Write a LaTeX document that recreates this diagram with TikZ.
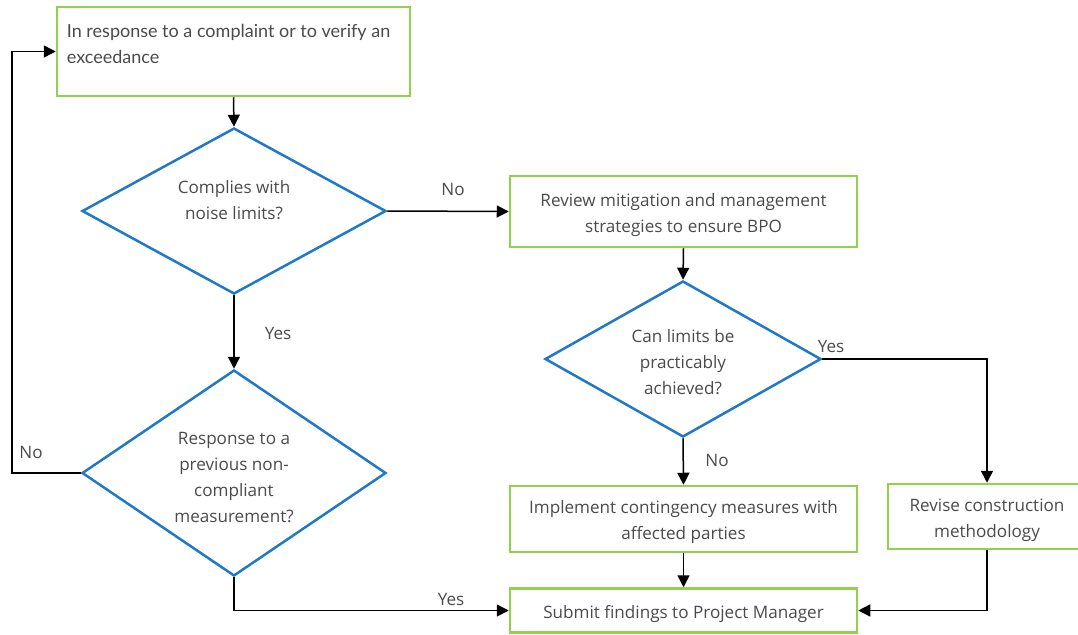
\documentclass[tikz,border=0pt]{standalone}
\usepackage{fontspec}
\setmainfont{Open Sans}
\newfontfamily\latofont{Lato}
\usetikzlibrary{shapes.geometric,arrows.meta}
\definecolor{boxgreen}{HTML}{92D050}
\definecolor{diablue}{HTML}{1F78C8}
\definecolor{txtgray}{HTML}{4A4A4A}
\begin{document}
\begin{tikzpicture}[x=1pt,y=-1pt,
  every node/.style={text=txtgray,font=\fontsize{17.1}{26}\selectfont},
  procbox/.style={draw=boxgreen,line width=2.5pt,rectangle,inner sep=0pt,align=center},
  decision/.style={draw=diablue,line width=2.5pt,diamond,inner sep=0pt,align=center},
  dtext/.style={align=center,inner sep=0pt},
  btext/.style={align=center,inner sep=0pt,yshift=-3.5pt},
  arr/.style={draw=black,line width=1.5pt,-{Triangle[length=12pt,width=12pt]}},
  lbl/.style={inner sep=0pt}]
\useasboundingbox (0,0) rectangle (1078,634);
\coordinate (lp) at (12,0);
\node[procbox,minimum width=353pt,minimum height=89pt,
  label={[anchor=north west,align=left,inner sep=0pt,xshift=11pt,yshift=-18pt,font=\latofont\fontsize{18}{26}\selectfont]north west:In response to a complaint or to verify an\\exceedance}] (box1) at (233.5,51.5) {};
\node[decision,minimum width=304pt,minimum height=166pt,
  label={[dtext,yshift=11pt]center:Complies with\\noise limits?}] (d1) at (234,211) {};
\node[procbox,minimum width=347pt,minimum height=71pt,
  label={[btext]center:Review mitigation and management\\strategies to ensure BPO}] (box2) at (683.5,211.5) {};
\node[decision,minimum width=276pt,minimum height=156pt,
  label={[dtext,yshift=-3pt]center:Can limits be\\practicably\\achieved?}] (d2) at (683,359) {};
\node[decision,minimum width=304pt,minimum height=206pt,
  label={[dtext,yshift=-5pt]center:Response to a\\previous non-\\compliant\\measurement?}] (d3) at (234,473) {};
\node[procbox,minimum width=347pt,minimum height=66pt,
  label={[btext]center:Implement contingency measures with\\affected parties}] (box3) at (683.5,519) {};
\node[procbox,minimum width=198pt,minimum height=65pt,
  label={[btext]center:Revise construction\\methodology}] (box4) at (987,516.5) {};
\node[procbox,minimum width=347pt,minimum height=44pt,
  label={[btext]center:Submit findings to Project Manager}] (box5) at (683.5,610.5) {};
\draw[arr] (box1.south) -- (d1.north);
\draw[arr] (d1.east) -- (box2.west);
\draw[arr] (box2.south) -- (d2.north);
\draw[arr] (d2.east) -| (box4.north);
\draw[arr] (d2.south) -- (box3.north);
\draw[arr] (box3.south) -- (box5.north);
\draw[arr] (box4.south) |- (box5.east);
\draw[arr] (d1.south) -- (d3.north);
\draw[arr] (d3.south) |- (box5.west);
\draw[arr] (d3.west) -- (d3.west -| lp) |- (box1.west);
\node[lbl] (lno1) at (453,189) {No};
\node[lbl] (lyes1) at (278,333) {Yes};
\node[lbl] (lyes2) at (831,346) {Yes};
\node[lbl] (lno2) at (717,460) {No};
\node[lbl] (lyes3) at (451,599) {Yes};
\node[lbl] (lno3) at (31,452) {No};
\end{tikzpicture}
\end{document}
